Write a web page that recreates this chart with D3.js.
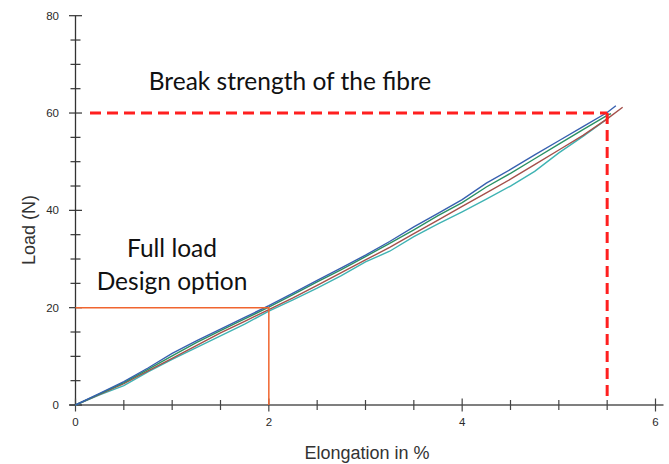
<!DOCTYPE html>
<html>
<head>
<meta charset="utf-8">
<script src="https://cdn.jsdelivr.net/npm/d3@7"></script>
<style>
  body { margin: 0; background: #fff; }
  svg { display: block; }
</style>
</head>
<body>
<script>
// elongation steps (%) shared by the four test runs
const elongSteps = [0, 0.25, 0.5, 0.75, 1, 1.25, 1.5, 1.75, 2, 2.25, 2.5, 2.75,
  3, 3.25, 3.5, 3.75, 4, 4.25, 4.5, 4.75, 5, 5.25, 5.5];

// load (N)
const cyanLoad = [0, 2.1, 4.0, 6.8, 9.4, 11.8, 14.2, 16.6, 19.3, 21.6, 24.0, 26.6,
  29.4, 31.6, 34.6, 37.2, 39.7, 42.3, 45.0, 48.0, 51.8, 55.2, 58.8];
const brownLoad = [0, 2.2, 4.4, 7.0, 9.6, 12.2, 14.8, 17.2, 19.6, 22.0, 24.6, 27.2,
  29.8, 32.4, 35.2, 38.0, 40.8, 43.6, 46.4, 49.4, 52.4, 55.4, 58.8];
const greenLoad = [0, 2.3, 4.6, 7.3, 10.1, 12.8, 15.3, 17.7, 20.1, 22.7, 25.3, 27.8,
  30.5, 33.2, 36.0, 38.9, 41.6, 44.8, 47.6, 50.6, 53.6, 56.6, 59.5];
const blueLoad = [0, 2.4, 4.8, 7.6, 10.6, 13.2, 15.6, 18.0, 20.4, 23.0, 25.6, 28.2,
  30.8, 33.6, 36.6, 39.4, 42.2, 45.6, 48.4, 51.4, 54.3, 57.2, 60.1];

// where each run broke
const endElong = [5.52, 5.66, 5.54, 5.59];
const endLoad = [59.2, 61.2, 59.9, 61.5];
const runColors = ["#3fb3b3", "#a5504b", "#2a9163", "#3760b0"];

// annotation values
const breakLoad = 60, breakElong = 5.5;
const designLoad = 20, designElong = 2;

const xTicks = [0, 0.5, 1, 1.5, 2, 2.5, 3, 3.5, 4, 4.5, 5, 5.5, 6];
const xLabels = [0, 2, 4, 6];
const yTicks = d3.range(0, 81, 5);
const yLabels = [0, 20, 40, 60, 80];

const width = 669, height = 464;

let svg = d3.select("body").append("svg")
  .attr("width", width)
  .attr("height", height);

let x = d3.scaleLinear().domain([0, 6]).range([75.5, 655.5]);
let y = d3.scaleLinear().domain([0, 80]).range([405, 15.7]);

// x axis line
svg.append("line")
  .attr("x1", x(0) - 6).attr("x2", x(6) + 8)
  .attr("y1", y(0)).attr("y2", y(0))
  .attr("stroke", "#555").attr("stroke-width", 1.3);

// y axis line
svg.append("line")
  .attr("x1", x(0)).attr("x2", x(0))
  .attr("y1", y(80)).attr("y2", y(0))
  .attr("stroke", "#333").attr("stroke-width", 1.3);

// ticks crossing the axes
svg.append("g").selectAll("line")
  .data(xTicks)
  .enter()
  .append("line")
  .attr("x1", d => x(d)).attr("x2", d => x(d))
  .attr("y1", d => y(0) - (xLabels.includes(d) ? 6.5 : 5))
  .attr("y2", d => y(0) + (xLabels.includes(d) ? 6.5 : 5))
  .attr("stroke", "#444").attr("stroke-width", 1.2);

svg.append("g").selectAll("line")
  .data(yTicks)
  .enter()
  .append("line")
  .attr("y1", d => y(d)).attr("y2", d => y(d))
  .attr("x1", d => x(0) - (yLabels.includes(d) ? 6.5 : 5))
  .attr("x2", d => x(0) + (yLabels.includes(d) ? 6.5 : 5))
  .attr("stroke", "#333").attr("stroke-width", 1.2);

// tick labels
svg.append("g").selectAll("text")
  .data(xLabels)
  .enter()
  .append("text")
  .attr("x", d => x(d))
  .attr("y", 426)
  .attr("text-anchor", "middle")
  .attr("font-family", "Liberation Sans, Arial, sans-serif")
  .attr("font-size", 11.5)
  .attr("fill", "#2a2a2a")
  .text(d => d);

svg.append("g").selectAll("text")
  .data(yLabels)
  .enter()
  .append("text")
  .attr("x", 59)
  .attr("y", d => y(d) + 4)
  .attr("text-anchor", "end")
  .attr("font-family", "Liberation Sans, Arial, sans-serif")
  .attr("font-size", 11.5)
  .attr("fill", "#2a2a2a")
  .text(d => d);

// axis titles
svg.append("text")
  .attr("x", 367).attr("y", 459)
  .attr("text-anchor", "middle")
  .attr("font-family", "Liberation Sans, Arial, sans-serif")
  .attr("font-size", 18)
  .attr("fill", "#333")
  .text("Elongation in %");

svg.append("text")
  .attr("transform", "translate(35, 230) rotate(-90)")
  .attr("text-anchor", "middle")
  .attr("font-family", "Liberation Sans, Arial, sans-serif")
  .attr("font-size", 18)
  .attr("fill", "#333")
  .text("Load (N)");

// test runs
let line = d3.line()
  .x(d => x(d[0]))
  .y(d => y(d[1]));

let runs = [cyanLoad, brownLoad, greenLoad, blueLoad].map((loads, i) => {
  let pts = elongSteps.map((e, j) => [e, loads[j]]);
  pts.push([endElong[i], endLoad[i]]);
  return pts;
});

svg.append("g").selectAll("path")
  .data(runs)
  .enter()
  .append("path")
  .attr("d", line)
  .attr("fill", "none")
  .attr("stroke", (d, i) => runColors[i])
  .attr("stroke-width", 1.4);

// full load / design option guide
svg.append("path")
  .attr("d", line([[0, designLoad], [designElong, designLoad], [designElong, 0]]))
  .attr("fill", "none")
  .attr("stroke", "#f0652f")
  .attr("stroke-width", 1.5);

// break strength guide
svg.append("path")
  .attr("d", line([[0.15, breakLoad], [breakElong, breakLoad]]))
  .attr("fill", "none")
  .attr("stroke", "#ff1f1f")
  .attr("stroke-width", 3)
  .attr("stroke-dasharray", "11,6");

svg.append("path")
  .attr("d", line([[breakElong, breakLoad], [breakElong, 0.8]]))
  .attr("fill", "none")
  .attr("stroke", "#ff1f1f")
  .attr("stroke-width", 3)
  .attr("stroke-dasharray", "11,6");

// callouts
let callout = (txt, cx, cy) => svg.append("text")
  .attr("x", cx).attr("y", cy)
  .attr("text-anchor", "middle")
  .attr("font-family", "Lato, Open Sans, sans-serif")
  .attr("font-size", 24.5)
  .attr("fill", "#111")
  .text(txt);

callout("Break strength of the fibre", 290, 90);
callout("Full load", 172, 257);
callout("Design option", 172, 290);
</script>
</body>
</html>
